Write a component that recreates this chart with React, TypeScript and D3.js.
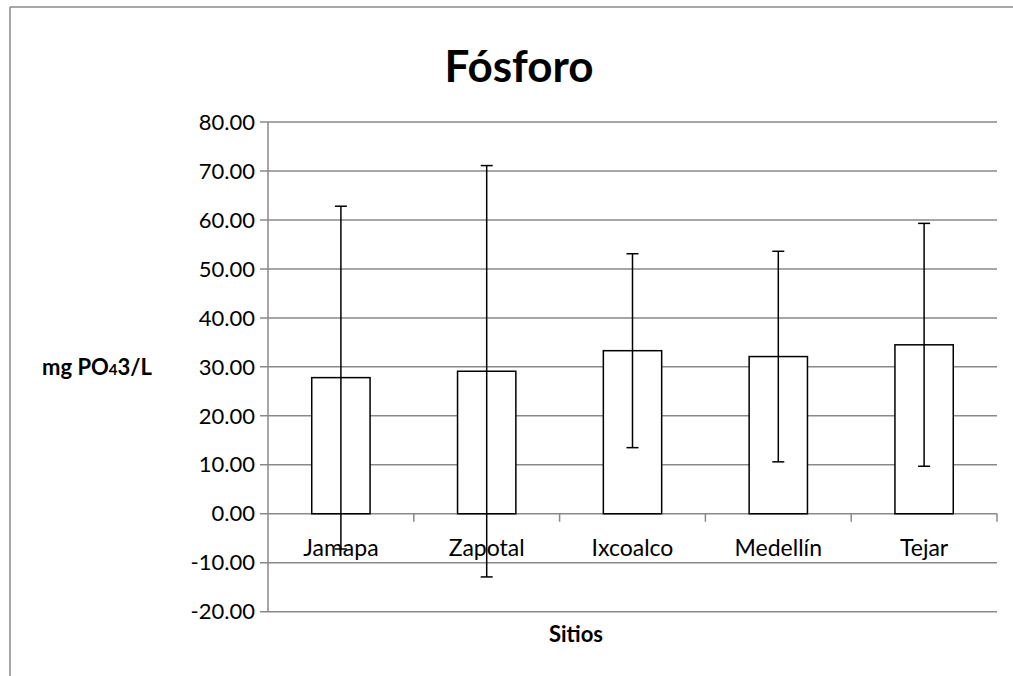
import React from "react";
import * as d3 from "d3";

const categories = ["Jamapa", "Zapotal", "Ixcoalco", "Medellín", "Tejar"];
const means = [27.8, 29.1, 33.3, 32.1, 34.5];
const errors = [35.0, 42.0, 19.8, 21.5, 24.8];
const yTicks = [-20, -10, 0, 10, 20, 30, 40, 50, 60, 70, 80];

const W = 1013;
const H = 676;
const left = 268;
const right = 997;
const top = 122;
const bottom = 611.7;
const FONT = "Lato, 'Open Sans', sans-serif";
const GRID = "#898989";

const fmt = (v: number) => d3.format(".2f")(v).replace("\u2212", "-");

export default function App() {
  const x = d3.scaleBand<string>().domain(categories).range([left, right]).paddingInner(0.6).paddingOuter(0.3);
  const xb = d3.scaleBand<string>().domain(categories).range([left, right]);
  const y = d3.scaleLinear().domain([-20, 80]).range([bottom, top]);
  const y0 = y(0);
  const cap = 6;

  return (
    <svg width={W} height={H} style={{ position: "absolute", left: 0, top: 0, background: "#fff" }}>
      <rect x={0} y={0} width={W} height={H} fill="#fff" />
      {/* outer frame (top and left visible) */}
      <line x1={10} y1={7} x2={W} y2={7} stroke={GRID} strokeWidth={1.5} />
      <line x1={10} y1={7} x2={10} y2={H} stroke={GRID} strokeWidth={1.5} />

      <text x={519} y={82} textAnchor="middle" fontFamily={FONT} fontWeight="bold" fontSize={44} fill="#000">
        Fósforo
      </text>

      {/* gridlines and y ticks */}
      {yTicks.map((t) => (
        <g key={t}>
          <line x1={left - 8} x2={right} y1={y(t)} y2={y(t)} stroke={GRID} strokeWidth={1.5} />
          <text x={255} y={y(t)} dy="0.35em" textAnchor="end" fontFamily={FONT} fontSize={22} fill="#000">
            {fmt(t)}
          </text>
        </g>
      ))}
      {/* y axis */}
      <line x1={left} x2={left} y1={top} y2={bottom} stroke={GRID} strokeWidth={1.5} />
      {/* category ticks */}
      {categories.map((c) => (
        <line key={c} x1={xb(c)! + xb.bandwidth()} x2={xb(c)! + xb.bandwidth()} y1={y0} y2={y0 + 8} stroke={GRID} strokeWidth={1.5} />
      ))}

      {/* bars */}
      {categories.map((c, i) => (
        <rect
          key={c}
          x={x(c)}
          y={y(means[i])}
          width={x.bandwidth()}
          height={y0 - y(means[i])}
          fill="#fff"
          stroke="#000"
          strokeWidth={1.5}
        />
      ))}

      {/* category labels */}
      {categories.map((c) => (
        <text key={c} x={xb(c)! + xb.bandwidth() / 2} y={548} dy="0.35em" textAnchor="middle" fontFamily={FONT} fontSize={23} fill="#000">
          {c}
        </text>
      ))}

      {/* error bars */}
      {categories.map((c, i) => {
        const cx = x(c)! + x.bandwidth() / 2;
        const hi = y(means[i] + errors[i]);
        const lo = y(means[i] - errors[i]);
        return (
          <g key={c} stroke="#000" strokeWidth={1.5}>
            <line x1={cx} x2={cx} y1={hi} y2={lo} />
            <line x1={cx - cap} x2={cx + cap} y1={hi} y2={hi} />
            <line x1={cx - cap} x2={cx + cap} y1={lo} y2={lo} />
          </g>
        );
      })}

      <text x={576} y={634} dy="0.35em" textAnchor="middle" fontFamily={FONT} fontWeight="bold" fontSize={22} fill="#000">
        Sitios
      </text>
      <text x={97} y={367} dy="0.35em" textAnchor="middle" fontFamily={FONT} fontWeight="bold" fontSize={22} fill="#000">
        mg PO<tspan fontSize={15}>4</tspan>3/L
      </text>
    </svg>
  );
}
